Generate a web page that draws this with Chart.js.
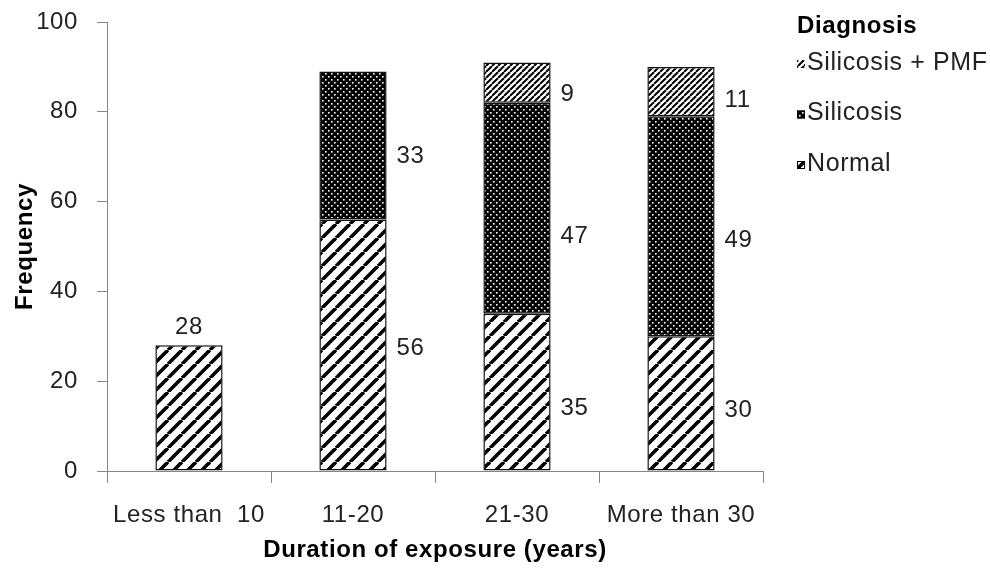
<!DOCTYPE html>
<html>
<head>
<meta charset="utf-8">
<script src="https://cdn.jsdelivr.net/npm/chart.js@4"></script>
<style>
  html, body { margin: 0; padding: 0; background: #fff; }
  #wrap { width: 990px; height: 568px; position: relative; }
</style>
</head>
<body>
<div id="wrap"><canvas id="chart"></canvas></div>
<script>
// Exposure groups and case counts per diagnosis
const categories = ['Less than  10', '11-20', '21-30', 'More than 30'];
const normal = [28, 56, 35, 30];
const silicosis = [null, 33, 47, 49];
const silicosisPmf = [null, null, 9, 11];
const yTicks = [0, 20, 40, 60, 80, 100];

const FONT = '"Liberation Sans", Arial, sans-serif';
Chart.defaults.font.family = FONT;

// Hatch fills
function stripeFill(size, lineWidth) {
  const c = document.createElement('canvas');
  c.width = c.height = size;
  const g = c.getContext('2d');
  g.fillStyle = '#fff';
  g.fillRect(0, 0, size, size);
  g.strokeStyle = '#000';
  g.lineWidth = lineWidth;
  for (const k of [-1, 0, 1]) {
    g.beginPath();
    g.moveTo(k * size, size);
    g.lineTo(k * size + size, 0);
    g.stroke();
  }
  return g.createPattern(c, 'repeat');
}
function dotFill(size) {
  const c = document.createElement('canvas');
  c.width = c.height = size;
  const g = c.getContext('2d');
  g.fillStyle = '#000';
  g.fillRect(0, 0, size, size);
  g.fillStyle = '#fff';
  const h = size / 2;
  g.fillRect(1, 1, 1.6, 1.6);
  g.fillRect(1 + h, 1 + h, 1.6, 1.6);
  return g.createPattern(c, 'repeat');
}

const wideHatch = stripeFill(14, 3.6);
const dotted = dotFill(6);
const fineHatch = stripeFill(6, 2);

// Keep the same letter spacing for every text draw
const spacing = {
  id: 'spacing',
  beforeDraw(chart) { chart.ctx.letterSpacing = '0.6px'; }
};

// Counts printed beside each segment (or above a lone bar)
const valueLabels = {
  id: 'valueLabels',
  afterDatasetsDraw(chart, args, opts) {
    const ctx = chart.ctx;
    ctx.save();
    ctx.font = '24px ' + FONT;
    ctx.fillStyle = '#222';
    ctx.textBaseline = 'middle';
    const sets = chart.data.datasets;
    sets.forEach((ds, di) => {
      const meta = chart.getDatasetMeta(di);
      meta.data.forEach((bar, i) => {
        const v = ds.data[i];
        if (v == null) return;
        const p = bar.getProps(['x', 'y', 'base', 'width'], true);
        const alone = sets.every((o, k) => k === di || o.data[i] == null);
        if (alone) {
          ctx.textAlign = 'center';
          ctx.fillText(String(v), p.x, p.y - opts.above);
        } else {
          ctx.textAlign = 'left';
          const dy = ((opts.shift[di] || [])[i] || 0) + opts.nudge;
          ctx.fillText(String(v), p.x + p.width / 2 + opts.gap, (p.y + p.base) / 2 + dy);
        }
      });
    });
    ctx.restore();
  }
};

// Legend block at the upper right, top series first
const legendBlock = {
  id: 'legendBlock',
  afterDraw(chart, args, o) {
    const ctx = chart.ctx;
    ctx.save();
    ctx.textBaseline = 'middle';
    ctx.textAlign = 'left';
    ctx.fillStyle = '#000';
    ctx.font = 'bold 24px ' + FONT;
    ctx.fillText(o.title, o.x, o.titleY);
    ctx.font = '25px ' + FONT;
    const items = chart.data.datasets.slice().reverse();
    items.forEach((ds, k) => {
      const cy = o.firstY + k * o.step;
      ctx.fillStyle = ds.backgroundColor;
      ctx.fillRect(o.x, cy - 3, 8, 8);
      if (ds.legendBorder) {
        ctx.strokeStyle = '#000';
        ctx.lineWidth = 1;
        ctx.strokeRect(o.x + 0.5, cy - 2.5, 7, 7);
      }
      ctx.fillStyle = '#222';
      ctx.fillText(ds.label, o.x + o.gap, cy);
    });
    ctx.restore();
  }
};

new Chart(document.getElementById('chart'), {
  type: 'bar',
  data: {
    labels: categories,
    datasets: [
      { label: 'Normal', data: normal, backgroundColor: wideHatch, legendBorder: true },
      { label: 'Silicosis', data: silicosis, backgroundColor: dotted, legendBorder: true },
      { label: 'Silicosis + PMF', data: silicosisPmf, backgroundColor: fineHatch, legendBorder: false }
    ]
  },
  options: {
    responsive: true,
    maintainAspectRatio: false,
    animation: false,
    events: [],
    layout: { padding: { left: 0, top: 22, right: 227, bottom: 0 } },
    datasets: {
      bar: {
        categoryPercentage: 0.41,
        barPercentage: 1,
        borderColor: '#111',
        borderWidth: 1.5,
        borderSkipped: false
      }
    },
    plugins: {
      legend: { display: false },
      tooltip: { enabled: false },
      valueLabels: {
        gap: 10,
        above: 18,
        nudge: 3,
        shift: [[0, 0, 13, 4], [0, 8, 25, 11], [0, 0, 9, 6]]
      },
      legendBlock: { title: 'Diagnosis', x: 797, titleY: 26, firstY: 63, step: 50.5, gap: 10 }
    },
    scales: {
      x: {
        stacked: true,
        grid: { display: true, drawOnChartArea: false, drawTicks: true, tickLength: 12, color: '#868686', offset: true },
        border: { display: true, color: '#868686', width: 1 },
        ticks: { color: '#222', font: { size: 24 }, padding: 18, maxRotation: 0, autoSkip: false },
        title: {
          display: true,
          text: 'Duration of exposure (years)',
          color: '#000',
          font: { size: 24, weight: 'bold' },
          padding: { top: 0, bottom: 3 }
        },
        afterFit(scale) { scale.height = 97; }
      },
      y: {
        stacked: true,
        min: 0,
        max: 100,
        afterBuildTicks(scale) { scale.ticks = yTicks.map(v => ({ value: v })); },
        ticks: { color: '#222', font: { size: 24 }, padding: 19 },
        grid: { display: true, drawOnChartArea: false, drawTicks: true, tickLength: 10, color: '#868686' },
        border: { display: true, color: '#868686', width: 1 },
        title: {
          display: true,
          text: 'Frequency',
          color: '#000',
          font: { size: 24, weight: 'bold' },
          padding: { top: 11, bottom: 0 }
        },
        afterFit(scale) {
          scale.width = 107;
          scale.paddingTop = 0;
          scale.paddingBottom = 0;
        }
      }
    }
  },
  plugins: [spacing, valueLabels, legendBlock]
});
</script>
</body>
</html>
